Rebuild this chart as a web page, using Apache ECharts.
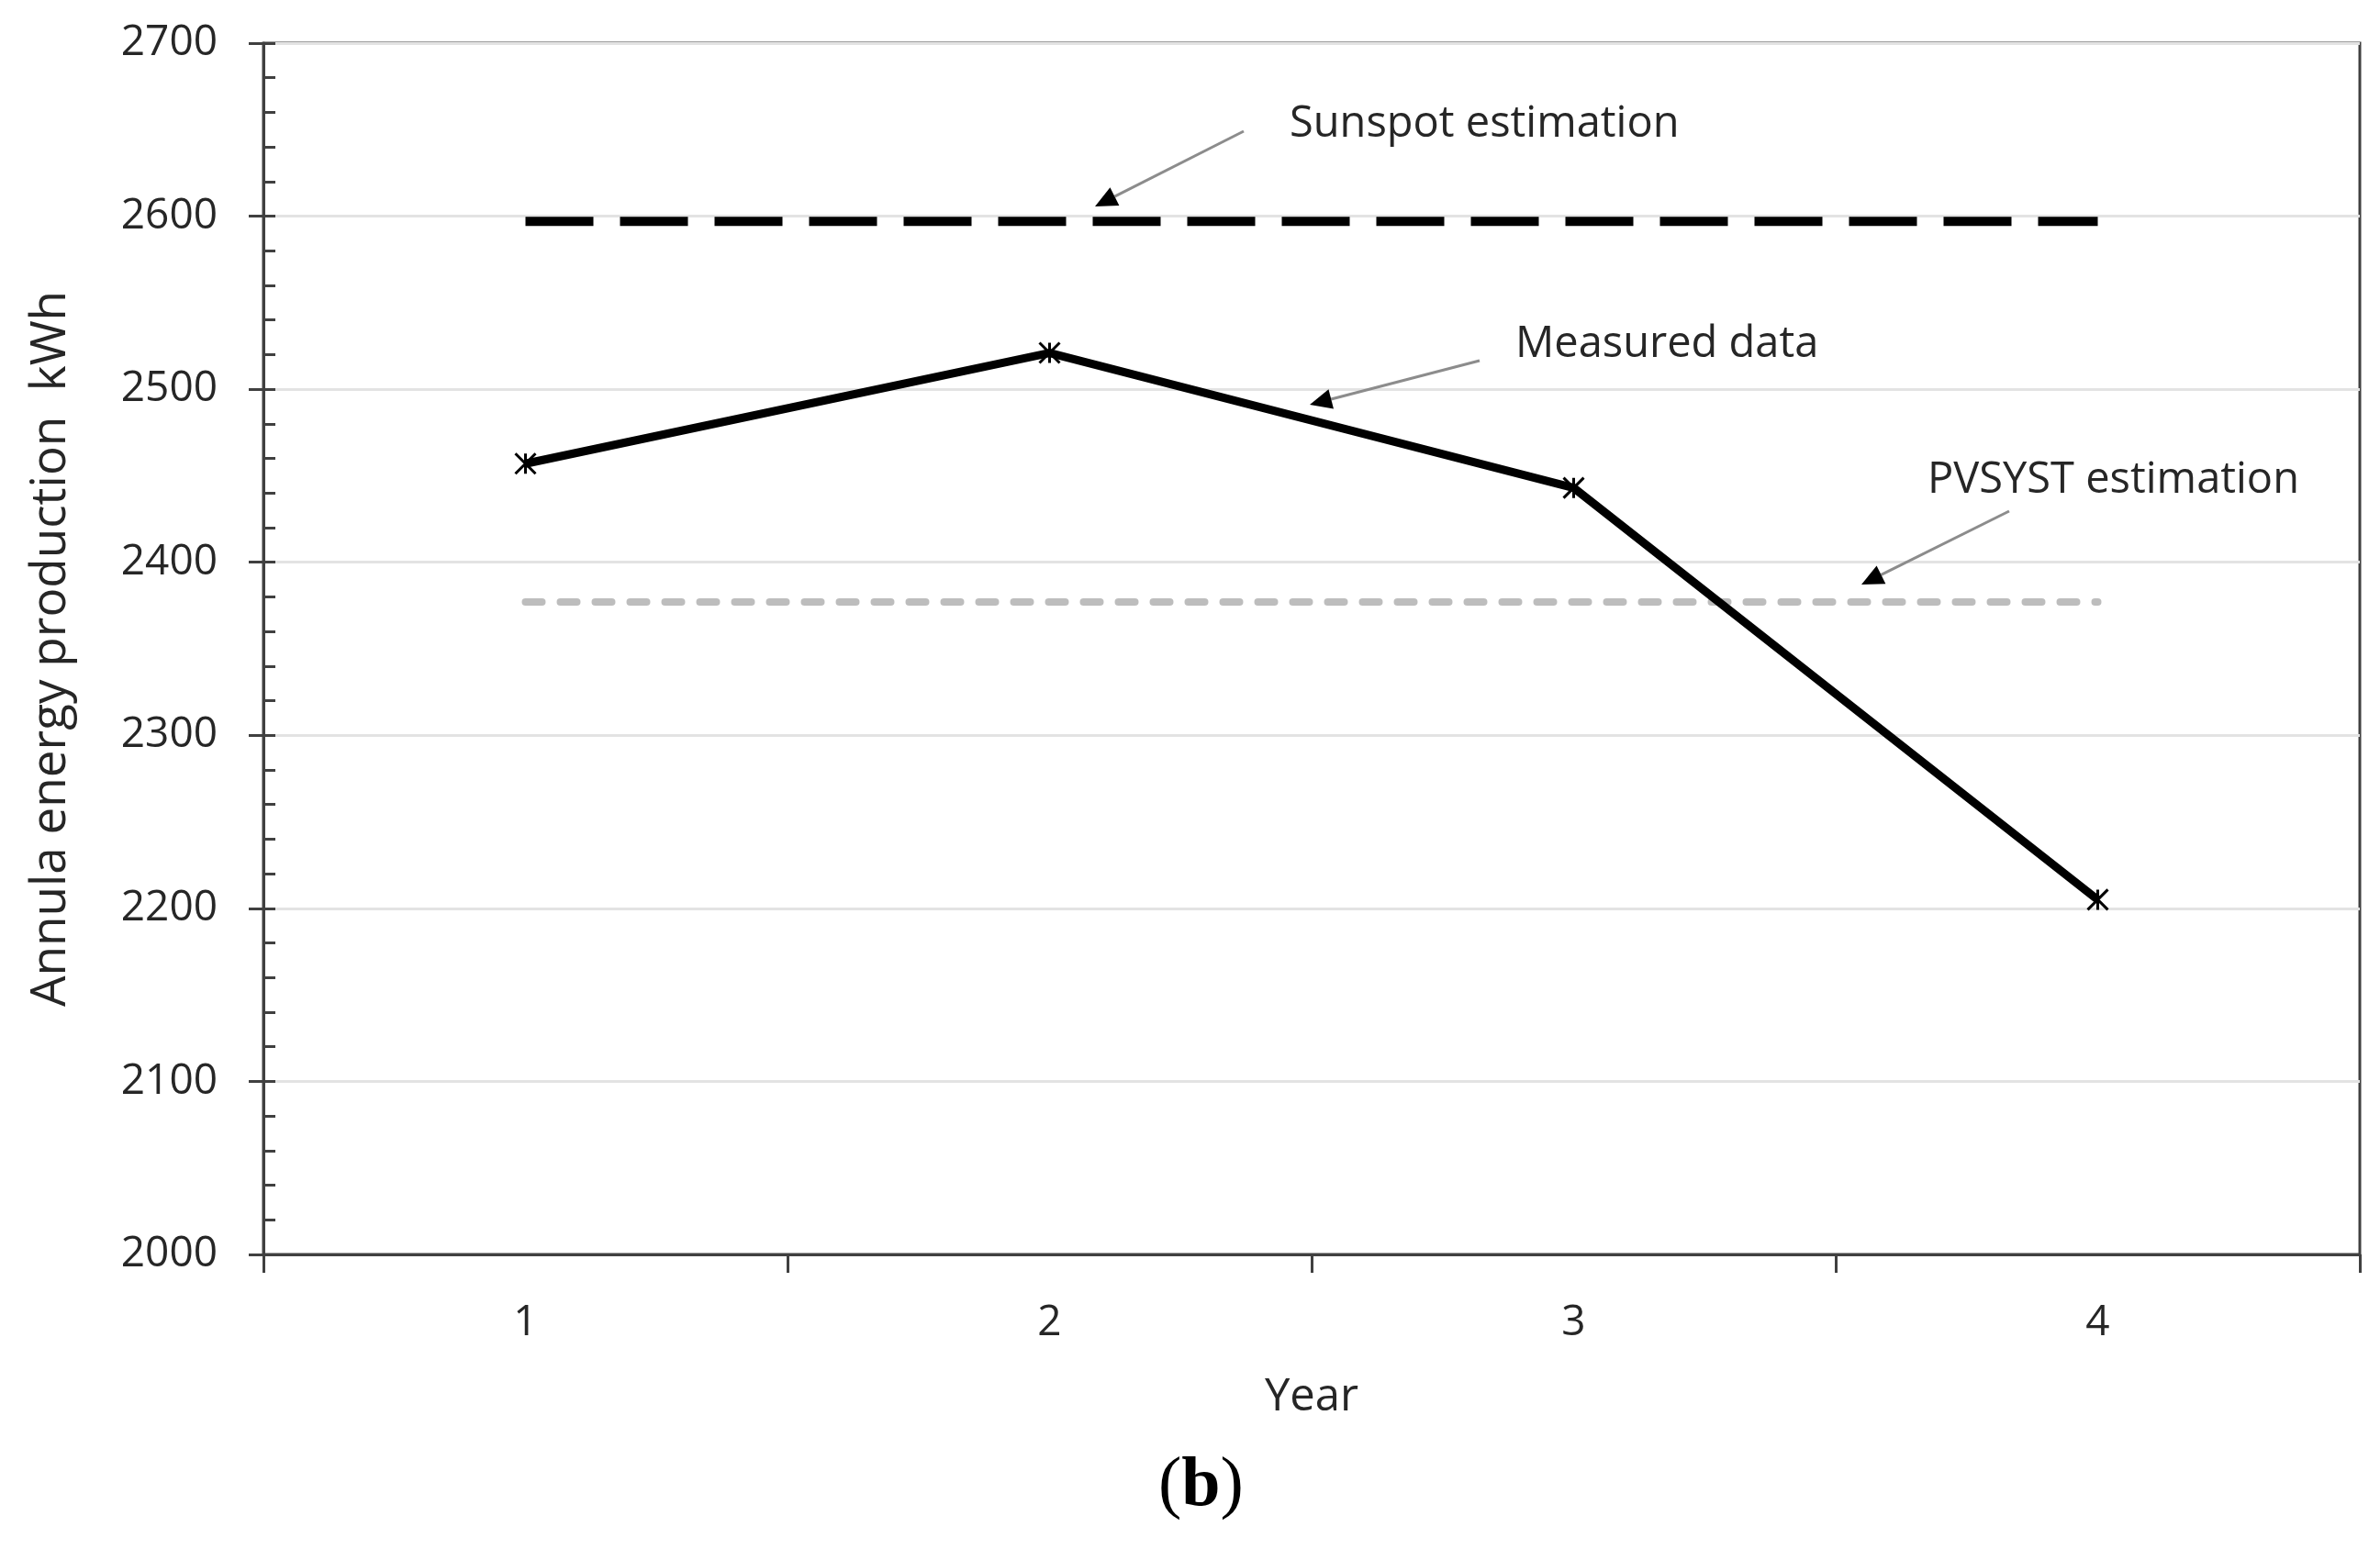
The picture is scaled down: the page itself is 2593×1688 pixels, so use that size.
<!DOCTYPE html>
<html>
<head>
<meta charset="utf-8">
<script src="https://cdn.jsdelivr.net/npm/echarts@6/dist/echarts.min.js"></script>
<style>
html,body{margin:0;padding:0;background:#fff;}
#chart{width:2593px;height:1688px;}
</style>
</head>
<body>
<div id="chart"></div>
<script>
// ---- data ----
var years = ['1', '2', '3', '4'];
var measured = [2457, 2521, 2443, 2205];
var sunspot = [2597, 2597, 2597, 2597];
var pvsyst = [2377, 2377, 2377, 2377];
var yTicks = { min: 2000, max: 2700, interval: 100 };

var FONT = 'Open Sans';
var TXT = '#262626';
var AX = '#404040';

var chart = echarts.init(document.getElementById('chart'), null, { renderer: 'canvas' });

// annotation arrows: [startX, startY, endX, endY] in pixels
function arrow(x1, y1, x2, y2) {
  var dx = x2 - x1, dy = y2 - y1;
  var len = Math.sqrt(dx * dx + dy * dy);
  var ux = dx / len, uy = dy / len;
  var hl = 24, hw = 11;
  var bx = x2 - ux * hl, by = y2 - uy * hl;
  return [
    { type: 'line', shape: { x1: x1, y1: y1, x2: bx, y2: by },
      style: { stroke: '#8c8c8c', lineWidth: 3 }, z: 10 },
    { type: 'polygon', shape: { points: [[x2, y2], [bx - uy * hw, by + ux * hw], [bx + uy * hw, by - ux * hw]] },
      style: { fill: '#000' }, z: 10 }
  ];
}

var graphics = [].concat(
  arrow(1355, 143, 1193, 225),
  arrow(1612, 393, 1427, 441),
  arrow(2189, 557, 2028, 637),
  [
    { type: 'text', left: 1405, top: 112, z: 10,
      style: { text: 'Sunspot estimation', font: '47px "' + FONT + '"', fill: TXT } },
    { type: 'text', left: 1651, top: 352, z: 10,
      style: { text: 'Measured data', font: '47px "' + FONT + '"', fill: TXT } },
    { type: 'text', left: 2100, top: 500, z: 10,
      style: { text: 'PVSYST estimation', font: '47px "' + FONT + '"', fill: TXT } },
    { type: 'text', left: 1262, top: 1582, z: 10,
      style: {
        text: '{p|(}{b|b}{p|)}',
        rich: {
          p: { fontFamily: 'Liberation Serif', fontSize: 76, fill: '#000' },
          b: { fontFamily: 'Liberation Serif', fontSize: 76, fontWeight: 'bold', fill: '#000' }
        }
      } }
  ]
);

var option = {
  backgroundColor: '#fff',
  animation: false,
  grid: { left: 287, right: 22, top: 47, bottom: 321, show: true, borderColor: AX, borderWidth: 3 },
  xAxis: {
    type: 'category',
    data: years,
    boundaryGap: true,
    name: 'Year',
    nameLocation: 'middle',
    nameGap: 132,
    nameTextStyle: { fontFamily: FONT, fontSize: 49, color: TXT },
    axisLine: { lineStyle: { color: AX, width: 3 } },
    axisTick: { show: true, length: 20, lineStyle: { color: AX, width: 3 } },
    axisLabel: { margin: 52, fontFamily: FONT, fontSize: 46, color: TXT },
    splitLine: { show: false }
  },
  yAxis: [
    {
      type: 'value',
      min: yTicks.min, max: yTicks.max, interval: yTicks.interval,
      name: 'Annula energy production  kWh',
      nameLocation: 'middle',
      nameGap: 205,
      nameTextStyle: { fontFamily: FONT, fontSize: 53, color: TXT },
      axisLine: { show: true, lineStyle: { color: AX, width: 3 } },
      axisTick: { show: true, length: 16, lineStyle: { color: AX, width: 3 } },
      axisLabel: { margin: 50, fontFamily: FONT, fontSize: 46, color: TXT,
        formatter: function (v) { return String(v); } },
      splitLine: { show: true, lineStyle: { color: '#e3e3e3', width: 3 } }
    },
    {
      type: 'value',
      position: 'left',
      min: yTicks.min, max: yTicks.max, interval: yTicks.interval,
      axisLine: { show: false },
      axisLabel: { show: false },
      splitLine: { show: false },
      axisTick: { show: true, inside: true, length: 13, lineStyle: { color: AX, width: 3 } },
      minorTick: { show: true, splitNumber: 5, length: 13, lineStyle: { color: AX, width: 3 } }
    }
  ],
  series: [
    {
      name: 'PVSYST estimation',
      type: 'line',
      data: pvsyst,
      symbol: 'none',
      lineStyle: { color: '#bdbdbd', width: 8, type: [18, 20], cap: 'round' },
      z: 2
    },
    {
      name: 'Sunspot estimation',
      type: 'line',
      data: sunspot,
      symbol: 'none',
      lineStyle: { color: '#000', width: 10, type: [74, 29], cap: 'butt' },
      z: 3
    },
    {
      name: 'Measured data',
      type: 'line',
      data: measured,
      symbol: 'path://M0,0L10,10M10,0L0,10M5,0L5,10',
      symbolSize: 22,
      showSymbol: true,
      itemStyle: { color: 'transparent', borderColor: '#000', borderWidth: 3 },
      lineStyle: { color: '#000', width: 9 },
      z: 4
    }
  ],
  graphic: graphics
};

chart.setOption(option);
</script>
</body>
</html>
